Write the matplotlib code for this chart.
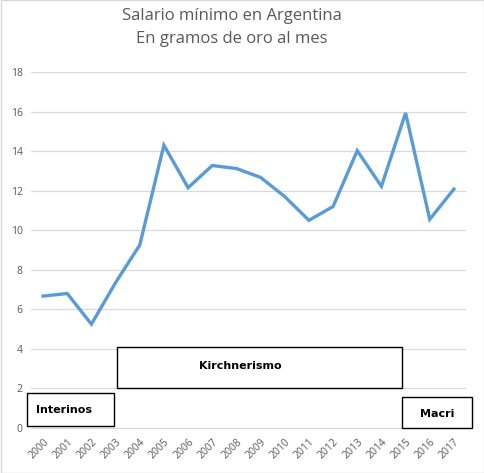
import matplotlib
matplotlib.use("Agg")
import matplotlib.pyplot as plt
import matplotlib.patches as mpatches

# ── data ───────────────────────────────────────────────────────────────────────
years = [str(y) for y in range(2000, 2018)]
gold_grams = [6.67, 6.8, 5.25, 7.35, 9.25, 14.3, 12.15, 13.27, 13.12, 12.67,
              11.7, 10.5, 11.2, 14.02, 12.22, 15.93, 10.55, 12.08]
y_ticks = [0, 2, 4, 6, 8, 10, 12, 14, 16, 18]

# ── style ──────────────────────────────────────────────────────────────────────
C_LINE = "#5B9BD5"
C_TEXT = "#595959"
C_GRID = "#D9D9D9"

plt.rcParams["font.family"] = ["Open Sans", "DejaVu Sans"]

W, H = 484, 473
fig = plt.figure(figsize=(W / 100, H / 100), dpi=100)
fig.patch.set_facecolor("white")

ax = fig.add_axes([31 / W, 1 - 428 / H, (466 - 31) / W, (428 - 72) / H])
x = list(range(len(years)))
ax.plot(x, gold_grams, color=C_LINE, linewidth=2.4, solid_joinstyle="miter", zorder=3)

ax.set_xlim(-0.5, len(years) - 0.5)
ax.set_ylim(0, 18)
ax.set_yticks(y_ticks)
ax.set_yticklabels([str(t) for t in y_ticks], fontsize=7.5, color=C_TEXT)
ax.set_xticks(x)
ax.set_xticklabels(years, rotation=45, ha="right", rotation_mode="anchor",
                   fontsize=7.5, color=C_TEXT)
ax.tick_params(length=0, pad=6)
ax.grid(axis="y", color=C_GRID, linewidth=0.9)
ax.set_axisbelow(True)
for s in ["top", "right", "left"]:
    ax.spines[s].set_visible(False)
ax.spines["bottom"].set_color(C_GRID)

fig.text(232 / W, 1 - 16 / H, "Salario mínimo en Argentina", ha="center", va="center",
         fontsize=12, color=C_TEXT)
fig.text(232 / W, 1 - 39 / H, "En gramos de oro al mes", ha="center", va="center",
         fontsize=12, color=C_TEXT)

# ── period boxes (pixel boxes: x0, y0, x1, y1, text centre) ────────────────────
periods = [("Interinos", (27, 393, 114, 426), (64, 410)),
           ("Kirchnerismo", (117, 347, 402, 388), (240, 366)),
           ("Macri", (402, 397, 472, 428), (437, 414))]
for label, (x0, y0, x1, y1), (tx, ty) in periods:
    fig.add_artist(mpatches.Rectangle((x0 / W, 1 - y1 / H), (x1 - x0) / W, (y1 - y0) / H,
                                      transform=fig.transFigure, facecolor="white",
                                      edgecolor="black", linewidth=1.0, zorder=5))
    fig.text(tx / W, 1 - ty / H, label, ha="center", va="center", fontsize=8,
             fontweight="bold", color="black", zorder=6, family=["DejaVu Sans"])

# outer chart border
fig.add_artist(mpatches.Rectangle((0.5 / W, 0.5 / H), (W - 1) / W, (H - 1) / H,
                                  transform=fig.transFigure, fill=False,
                                  edgecolor="#D9D9D9", linewidth=1.0))

fig.savefig("out.png", dpi=100)
